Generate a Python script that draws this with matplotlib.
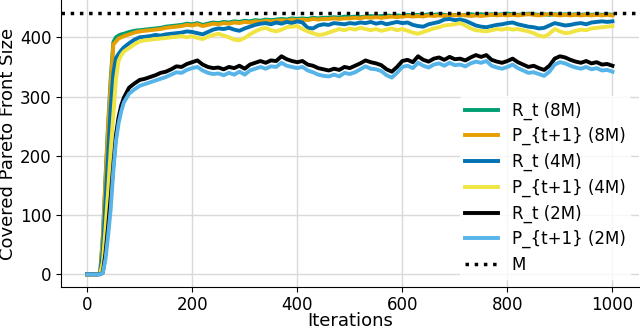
import numpy as np
import matplotlib
matplotlib.use("Agg")
import matplotlib.pyplot as plt

# iterations at which values were read (finer during the initial ramp)
iters = [0, 10, 20, 25, 30, 35, 40, 45, 50, 55, 60, 65, 70, 80, 90] + list(range(100, 1001, 10))

r_8m = [0, 0, 0, 3, 65, 162, 252, 330, 392, 400, 403, 405, 406, 409, 411,
        412, 413, 414, 415, 416, 418, 419, 420, 421, 423, 422, 424, 421, 423, 425,
        424, 426, 425, 427, 426, 428, 427, 429, 428, 430, 429, 430, 431, 430, 432,
        431, 432, 431, 433, 432, 433, 433, 434, 433, 435, 434, 435, 434, 435, 436,
        435, 436, 437, 436, 437, 436, 438, 437, 438, 437, 439, 438, 439, 438, 437,
        438, 437, 438, 439, 438, 439, 438, 439, 438, 439, 440, 439, 438, 439, 440,
        439, 438, 439, 438, 439, 438, 439, 438, 439, 438, 439, 438, 439, 438, 439,
        438]
p_8m = [0, 0, 0, 3, 60, 155, 246, 320, 388, 393, 398, 400, 402, 405, 408,
        410, 411, 412, 413, 414, 416, 417, 418, 419, 421, 420, 422, 419, 421, 423,
        422, 424, 423, 425, 424, 426, 425, 427, 426, 428, 427, 428, 429, 428, 430,
        429, 430, 429, 431, 430, 431, 431, 432, 431, 432, 432, 433, 432, 434, 433,
        434, 433, 434, 435, 434, 435, 436, 435, 436, 435, 437, 436, 437, 436, 438,
        437, 438, 437, 436, 437, 436, 437, 438, 437, 438, 437, 438, 437, 438, 439,
        438, 437, 438, 439, 438, 437, 438, 437, 438, 437, 438, 437, 438, 437, 438,
        437]
r_4m = [0, 0, 0, 2, 40, 120, 200, 280, 340, 365, 372, 378, 383, 390, 396,
        400, 401, 402, 404, 403, 405, 406, 407, 408, 410, 409, 407, 405, 409, 413,
        415, 414, 416, 413, 411, 415, 418, 421, 423, 424, 422, 425, 423, 426, 424,
        427, 425, 416, 415, 420, 422, 421, 424, 423, 422, 424, 423, 425, 424, 426,
        423, 425, 422, 424, 426, 424, 425, 421, 419, 418, 422, 424, 426, 430, 431,
        429, 430, 428, 424, 420, 418, 417, 419, 421, 422, 424, 425, 422, 420, 418,
        417, 415, 416, 420, 424, 422, 420, 421, 423, 424, 422, 425, 426, 427, 426,
        427]
p_4m = [0, 0, 0, 1, 20, 75, 140, 210, 270, 330, 360, 370, 376, 382, 388,
        393, 395, 396, 397, 398, 399, 400, 401, 402, 400, 402, 399, 397, 401, 404,
        406, 403, 400, 396, 395, 399, 405, 410, 414, 416, 412, 410, 413, 417, 418,
        419, 414, 410, 407, 404, 405, 408, 411, 414, 412, 415, 413, 416, 414, 412,
        414, 411, 413, 415, 412, 414, 411, 408, 406, 409, 412, 415, 417, 420, 421,
        422, 424, 420, 415, 412, 411, 410, 412, 414, 413, 415, 413, 414, 412, 410,
        407, 403, 401, 406, 414, 410, 407, 408, 411, 413, 412, 415, 416, 417, 418,
        419]
r_2m = [0, 0, 0, 0, 3, 35, 80, 130, 185, 235, 265, 285, 298, 315, 322,
        328, 330, 333, 336, 340, 342, 346, 351, 350, 355, 358, 361, 354, 350, 348,
        349, 346, 350, 348, 352, 347, 354, 357, 360, 357, 361, 360, 368, 363, 360,
        358, 360, 354, 352, 348, 346, 344, 347, 345, 350, 348, 352, 356, 361, 358,
        356, 353, 346, 342, 350, 360, 362, 358, 368, 362, 359, 364, 366, 362, 367,
        363, 364, 361, 366, 370, 367, 370, 362, 359, 357, 360, 364, 358, 354, 350,
        352, 348, 345, 352, 364, 368, 366, 362, 359, 357, 360, 356, 358, 354, 355,
        352]
p_2m = [0, 0, 0, 0, 2, 25, 65, 110, 175, 225, 255, 275, 290, 305, 312,
        318, 321, 324, 327, 330, 333, 337, 341, 340, 345, 348, 350, 344, 340, 338,
        339, 336, 340, 337, 342, 337, 344, 347, 350, 347, 351, 350, 357, 352, 350,
        348, 350, 344, 341, 337, 335, 334, 337, 334, 340, 338, 341, 346, 351, 347,
        346, 343, 336, 332, 340, 350, 352, 348, 357, 352, 349, 354, 356, 352, 357,
        353, 354, 351, 356, 359, 357, 360, 352, 349, 347, 350, 354, 348, 344, 340,
        341, 338, 335, 342, 354, 358, 356, 352, 349, 347, 350, 346, 348, 344, 345,
        342]
M = 441

series = [
    ("R_t (8M)", r_8m, "#009E73"),
    ("P_{t+1} (8M)", p_8m, "#E69F00"),
    ("R_t (4M)", r_4m, "#0072B2"),
    ("P_{t+1} (4M)", p_4m, "#F0E442"),
    ("R_t (2M)", r_2m, "black"),
    ("P_{t+1} (2M)", p_2m, "#56B4E9"),
]

fig, ax = plt.subplots(figsize=(6.4, 3.31), dpi=100)
plt.subplots_adjust(left=0.095, right=0.998, bottom=0.132, top=1.0)

for label, vals, col in series:
    ax.plot(iters, vals, color=col, lw=2.8, label=label)
ax.axhline(M, color="black", ls=":", lw=2.5, label="M")

ax.set_xlim(-50, 1050)
ax.set_ylim(-22, 463)
ax.set_xticks([0, 200, 400, 600, 800, 1000])
ax.set_yticks([0, 100, 200, 300, 400])
ax.grid(True, color="#d9d9d9", lw=1)
ax.set_axisbelow(True)
for s in ["top", "right"]:
    ax.spines[s].set_visible(False)
ax.tick_params(labelsize=12, pad=3)
ax.set_xlabel("Iterations", fontsize=13, labelpad=-2)
ax.set_ylabel("Covered Pareto Front Size", fontsize=13, labelpad=2)
ax.legend(loc="lower right", fontsize=12, frameon=True, edgecolor="white",
          framealpha=0.8, handlelength=2, labelspacing=0.45, borderpad=0.3)

plt.savefig("out.png", dpi=100)
